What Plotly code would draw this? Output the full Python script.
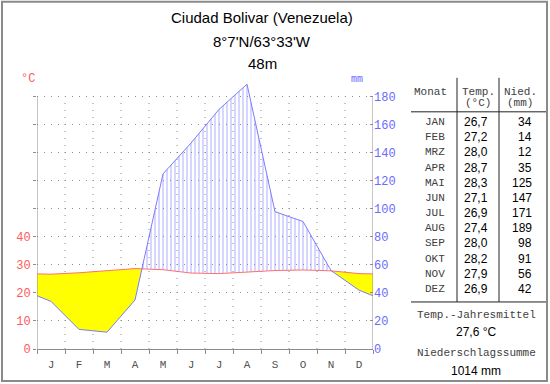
import plotly.graph_objects as go
import numpy as np

# ---------------- data ----------------
month_letters = ["J", "F", "M", "A", "M", "J", "J", "A", "S", "O", "N", "D"]
month_names = ["JAN", "FEB", "MRZ", "APR", "MAI", "JUN", "JUL", "AUG", "SEP", "OKT", "NOV", "DEZ"]
temperature = [26.7, 27.2, 28.0, 28.7, 28.3, 27.1, 26.9, 27.4, 28.0, 28.2, 27.9, 26.9]
precipitation = [34, 14, 12, 35, 125, 147, 171, 189, 98, 91, 56, 42]
temp_ticks = [0, 10, 20, 30, 40, 50, 60, 70, 80, 90]
temp_labels = ["0", "10", "20", "30", "40", "", "", "", "", ""]
precip_ticks = [0, 20, 40, 60, 80, 100, 120, 140, 160, 180]
title_lines = ["Ciudad Bolivar (Venezuela)", "8°7'N/63°33'W", "48m"]

# ---------------- geometry helpers ----------------
W, H = 550, 384
YMAX = 96          # temperature-axis top (leaves room for the 189 mm peak)
GRID_TOP = 90
L, R, B = 37, 373, 349
PXU = 2.8          # pixels per °C
T = B - YMAX * PXU


def px(x):
    return (x - L) / (R - L)


def py(y):
    return (B - y) / (B - T)


MONO = "Liberation Mono, Courier New, monospace"
SANS = "Liberation Sans, Arial, sans-serif"
RED = "#ff5a5a"
BLUE = "#6a6aff"
GRAY = "#8c8c8c"

# ---------------- derived series ----------------
n = len(temperature)
xs = [0.0] + [i + 0.5 for i in range(n)] + [float(n)]
t_edge = (temperature[0] + temperature[-1]) / 2
p_edge = (precipitation[0] + precipitation[-1]) / 2
ts = [t_edge] + temperature + [t_edge]
pm = [p_edge] + precipitation + [p_edge]
ps = [p / 2 for p in pm]  # precipitation in temperature units (20 mm = 10 °C)

X, TT, PP = [xs[0]], [ts[0]], [ps[0]]
for i in range(1, len(xs)):
    d0 = ps[i - 1] - ts[i - 1]
    d1 = ps[i] - ts[i]
    if d0 * d1 < 0:
        f = d0 / (d0 - d1)
        xc = xs[i - 1] + f * (xs[i] - xs[i - 1])
        vc = ts[i - 1] + f * (ts[i] - ts[i - 1])
        X.append(xc); TT.append(vc); PP.append(vc)
    X.append(xs[i]); TT.append(ts[i]); PP.append(ps[i])
lo = np.minimum(TT, PP)
hi = np.maximum(TT, PP)

fig = go.Figure()
fig.add_trace(go.Scatter(x=X, y=TT, mode="lines", line=dict(width=0), hoverinfo="skip", showlegend=False))
fig.add_trace(go.Scatter(x=X, y=lo, mode="lines", line=dict(width=0), fill="tonexty",
                         fillcolor="#ffff00", hoverinfo="skip", showlegend=False))
fig.add_trace(go.Scatter(x=X, y=TT, mode="lines", line=dict(width=0), hoverinfo="skip", showlegend=False))
fig.add_trace(go.Scatter(x=X, y=hi, mode="lines", line=dict(width=0), fill="tonexty",
                         fillcolor="rgba(255,255,255,0)",
                         fillpattern=dict(shape="|", size=4, solidity=0.35, fgcolor="#8a8aff",
                                          bgcolor="rgba(255,255,255,0)"),
                         hoverinfo="skip", showlegend=False))
fig.add_trace(go.Scatter(x=xs, y=pm, yaxis="y2", mode="lines", line=dict(color="#7b7bff", width=1),
                         hoverinfo="skip", showlegend=False))
fig.add_trace(go.Scatter(x=xs, y=ts, mode="lines", line=dict(color="#ff7070", width=1),
                         hoverinfo="skip", showlegend=False))

fig.update_layout(
    width=W, height=H,
    margin=dict(l=L, r=W - R, t=T, b=H - B, pad=0),
    paper_bgcolor="white", plot_bgcolor="rgba(0,0,0,0)",
    showlegend=False,
    xaxis=dict(range=[0, n], tickvals=[i + 0.5 for i in range(n)], ticktext=month_letters,
               ticks="", ticklabelstandoff=5, showline=True, linecolor=GRAY, linewidth=1,
               showgrid=False, zeroline=False, fixedrange=True,
               tickfont=dict(family=MONO, size=11, color="#505050"),
               minor=dict(tickvals=list(range(n + 1)), ticks="outside", ticklen=4, tickcolor=GRAY,
                          showgrid=False)),
    yaxis=dict(range=[0, YMAX], tickvals=temp_ticks, ticktext=temp_labels, ticks="outside", ticklen=3,
               tickcolor=GRAY, showline=False, showgrid=True,
               gridcolor=GRAY, griddash="1px,6px", zeroline=False, fixedrange=True,
               tickfont=dict(family=MONO, size=12, color=RED)),
    yaxis2=dict(range=[0, YMAX * 2], overlaying="y", side="right", tickvals=precip_ticks, ticks="inside",
                ticklen=3, tickcolor=GRAY, showline=False,
                showgrid=False, zeroline=False, fixedrange=True,
                tickfont=dict(family=MONO, size=12, color=BLUE)),
)

shapes = []
# vertical dotted month grid (up to the top grid line)
for k in range(1, n):
    shapes.append(dict(type="line", xref="x", yref="y", x0=k, x1=k, y0=0, y1=GRID_TOP, layer="below",
                       line=dict(color=GRAY, width=1, dash="1px,6px")))
# y axis lines (stop at top grid line)
for xv in (0, n):
    shapes.append(dict(type="line", xref="x", yref="y", x0=xv, x1=xv, y0=0, y1=GRID_TOP, layer="above",
                       line=dict(color=GRAY, width=1)))
# outer frame
shapes.append(dict(type="rect", xref="paper", yref="paper", x0=px(2), x1=px(547), y0=py(381), y1=py(2),
                   line=dict(color="#8a8a8a", width=2), layer="above"))
# table lines
line_c = "#222222"
for xv in (457, 499):
    shapes.append(dict(type="line", xref="paper", yref="paper", x0=px(xv), x1=px(xv), y0=py(78), y1=py(302),
                       line=dict(color=line_c, width=1)))
for yv in (112, 302):
    shapes.append(dict(type="line", xref="paper", yref="paper", x0=px(411), x1=px(546), y0=py(yv), y1=py(yv),
                       line=dict(color=line_c, width=1)))
fig.update_layout(shapes=shapes)

ann = []


def add_text(text, x, y, size, family, color, xanchor="center"):
    ann.append(dict(text=text, x=px(x), y=py(y), xref="paper", yref="paper", showarrow=False,
                    xanchor=xanchor, yanchor="middle", font=dict(size=size, family=family, color=color)))


for i, line in enumerate(title_lines):
    add_text(line, 262, [18, 42, 64][i], 15, SANS, "black")

add_text("°C", 28, 79, 12, MONO, RED)
add_text("mm", 357, 80, 10, MONO, BLUE)

# table header
add_text("Monat", 430, 92, 11, MONO, "#404040")
add_text("Temp.", 478, 92, 11, MONO, "#404040")
add_text("(°C)", 478, 103, 11, MONO, "#404040")
add_text("Nied.", 520, 92, 11, MONO, "#404040")
add_text("(mm)", 520, 103, 11, MONO, "#404040")

for i in range(n):
    yv = 122.3 + i * 15.15
    add_text(month_names[i], 447, yv, 11, MONO, "#404040", "right")
    add_text(f"{temperature[i]:.1f}".replace(".", ","), 490, yv, 12, SANS, "black", "right")
    add_text(str(precipitation[i]), 534, yv, 12, SANS, "black", "right")

mean_t = sum(temperature) / n
total_p = sum(precipitation)
add_text("Temp.-Jahresmittel", 476, 315, 11, MONO, "#404040")
add_text(f"{mean_t:.1f}".replace(".", ",") + " °C", 476, 332, 12, SANS, "black")
add_text("Niederschlagssumme", 476, 353, 11, MONO, "#404040")
add_text(f"{total_p} mm", 476, 371, 12, SANS, "black")

fig.update_layout(annotations=ann)

fig.write_html("out.html", config={"displayModeBar": False},
               post_script="document.body.style.margin='0';document.body.style.padding='0';")
